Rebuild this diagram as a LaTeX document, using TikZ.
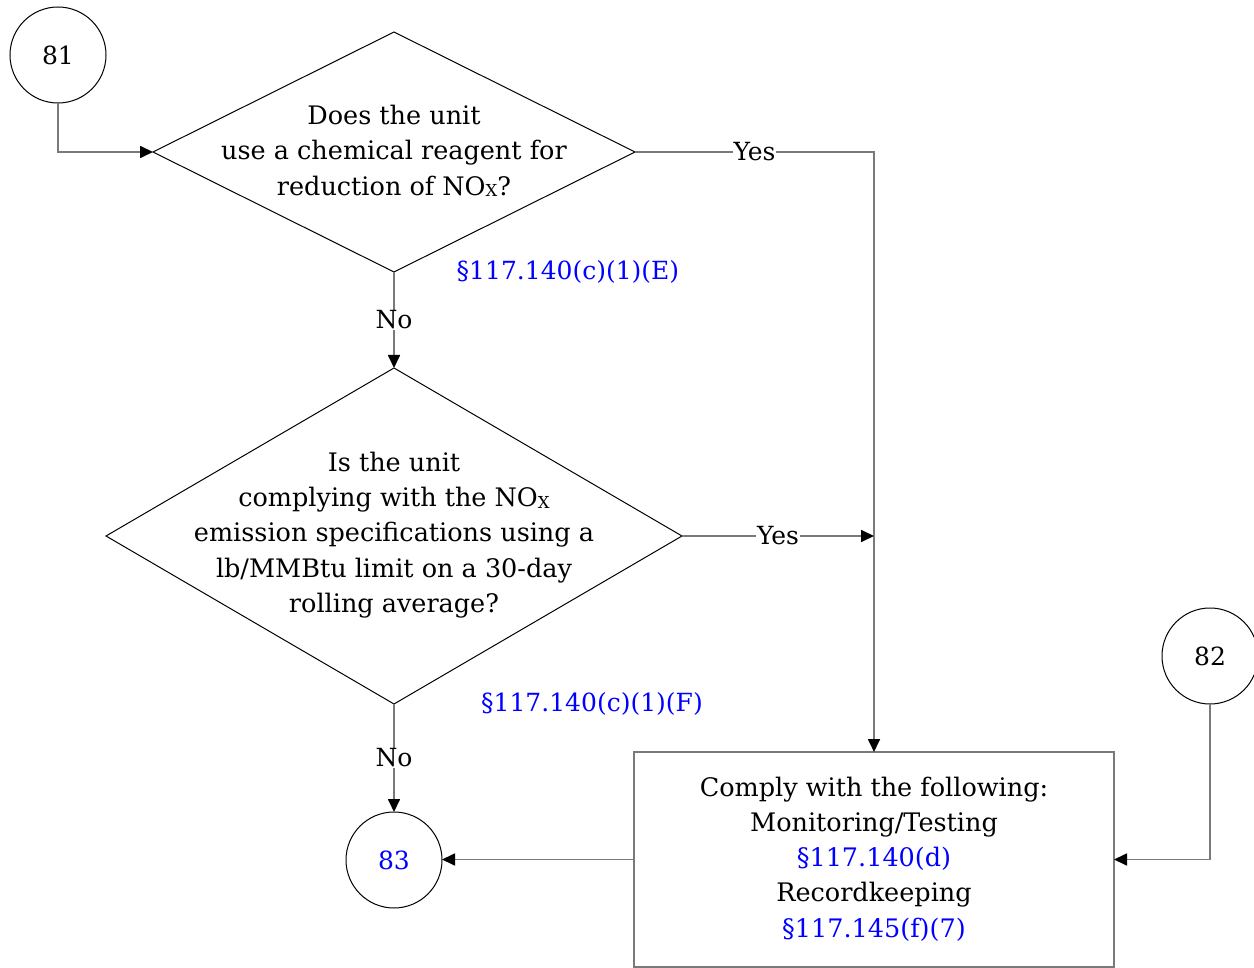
\documentclass[tikz,border=0pt]{standalone}
\usepackage{fontspec}
\setmainfont{DejaVu Serif}
\usetikzlibrary{arrows.meta,shapes.geometric}
\definecolor{conn}{HTML}{7A7A7A}
\definecolor{refblue}{HTML}{0000FF}
\newcommand{\subx}{{\fontsize{16.5}{16.5}\selectfont\raisebox{-1.5pt}{X}}}
\tikzset{
  x=1pt,y=-1pt,
  txt/.style={font=\fontsize{25.5}{35.2}\selectfont, align=center, inner sep=0pt},
  dia/.style={diamond, draw=black, line width=1pt, inner sep=0pt, outer sep=0pt},
  conncircle/.style={circle, draw=black, line width=1pt, minimum size=96pt, inner sep=0pt, outer sep=0pt, font=\fontsize{25}{28}\selectfont},
  stepbox/.style={rectangle, draw=conn, line width=1.5pt, inner sep=0pt, outer sep=0pt},
  conn/.style={draw=conn, line width=1.7pt, -{Triangle[length=13pt,width=12pt,color=black]}},
  lbl/.style={fill=white, inner sep=1pt, font=\fontsize{25}{28}\selectfont},
  ref/.style={text=refblue, font=\fontsize{25}{28}\selectfont, inner sep=0pt}
}
\begin{document}
\begin{tikzpicture}
\useasboundingbox (0,0) rectangle (1254,968);
% nodes
\node[conncircle] (c81) at (58,55) {81};
\node[dia, minimum width=482pt, minimum height=240pt] (d1) at (394,152) {};
\node[txt] (t1) at (394,151) {Does the unit\\use a chemical reagent for\\reduction of NO\subx?};
\node[ref] (r1) at (568,272) {§117.140(c)(1)(E)};
\node[dia, minimum width=576pt, minimum height=336pt] (d2) at (394,536) {};
\node[txt] (t2) at (394,535) {Is the unit\\complying with the NO\subx\\emission specifications using a\\lb/MMBtu limit on a 30-day\\rolling average?};
\node[ref] (r2) at (592,704) {§117.140(c)(1)(F)};
\node[conncircle, text=refblue] (c83) at (394,860) {83};
\node[conncircle] (c82) at (1210,656) {82};
\node[stepbox, minimum width=480pt, minimum height=215pt] (box) at (874,859.5) {};
\node[txt] (t3) at (874,859) {Comply with the following:\\Monitoring/Testing\\\textcolor{refblue}{§117.140(d)}\\Recordkeeping\\\textcolor{refblue}{§117.145(f)(7)}};
% connectors
\draw[conn] (c81.south) |- (d1.west);
\draw[conn] (d1.east) -- node[lbl] {Yes} (d1.east -| box.north) -- (box.north);
\draw[conn] (d1.south) -- node[lbl] {No} (d2.north);
\draw[conn] (d2.east) -- node[lbl] {Yes} (d2.east -| box.north);
\draw[conn] (d2.south) -- node[lbl] {No} (c83.north);
\draw[conn] (box.west) -- (box.west -| c83.east);
\draw[conn] (c82.south) |- (box.east);
\end{tikzpicture}
\end{document}
